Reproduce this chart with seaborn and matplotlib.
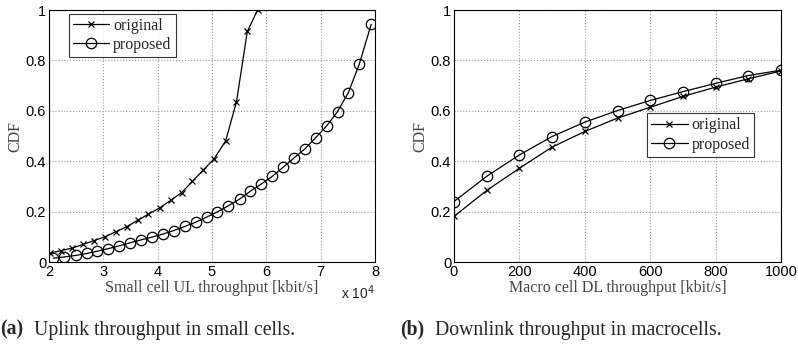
import numpy as np
import matplotlib
matplotlib.use("Agg")
import matplotlib.pyplot as plt
import seaborn as sns

# Small cell uplink throughput [kbit/s]
ul_orig_x = [20200, 22200, 24200, 26300, 28300, 30300, 32300, 34300, 36300, 38300,
             40400, 42400, 44400, 46400, 48400, 50400, 52500, 54500, 56500, 58400]
ul_orig_cdf = [0.035, 0.045, 0.055, 0.07, 0.085, 0.10, 0.12, 0.14, 0.165, 0.19,
               0.215, 0.245, 0.275, 0.32, 0.365, 0.41, 0.48, 0.635, 0.915, 1.0]
ul_prop_x = [20800, 22800, 24900, 27000, 28900, 30900, 32900, 34900, 37000, 39000,
             41000, 43000, 45000, 47100, 49000, 51000, 53000, 55100, 57000, 59100,
             61100, 63100, 65100, 67100, 69100, 71100, 73100, 75100, 77100, 79300]
ul_prop_cdf = [0.015, 0.02, 0.026, 0.034, 0.043, 0.053, 0.064, 0.076, 0.088, 0.099,
               0.111, 0.125, 0.141, 0.159, 0.178, 0.199, 0.223, 0.25, 0.28, 0.31,
               0.34, 0.376, 0.413, 0.449, 0.494, 0.54, 0.597, 0.672, 0.785, 0.943]

# Macro cell downlink throughput [kbit/s]
dl_x = [0, 100, 200, 300, 400, 500, 600, 700, 800, 900, 1000]
dl_orig_cdf = [0.181, 0.284, 0.372, 0.456, 0.518, 0.571, 0.614, 0.657, 0.694, 0.727, 0.758]
dl_prop_cdf = [0.24, 0.34, 0.425, 0.498, 0.555, 0.601, 0.641, 0.676, 0.709, 0.74, 0.761]

sns.set_style("white")
plt.rcParams['font.family'] = ['Liberation Sans', 'DejaVu Sans']

fig = plt.figure(figsize=(7.98, 3.45), dpi=100)
ax1 = fig.add_axes([49 / 798, 1 - 262 / 345, 326 / 798, 252 / 345])
ax2 = fig.add_axes([454 / 798, 1 - 262 / 345, 327 / 798, 252 / 345])

serif = 'Liberation Serif'
orig_style = dict(color='k', marker='x', markersize=5, markeredgecolor='k',
                  markeredgewidth=0.9, linewidth=0.9)
prop_style = dict(color='k', marker='o', markersize=7.5, markerfacecolor='none',
                  markeredgecolor='k', markeredgewidth=0.9, linewidth=0.9)

sns.lineplot(x=ul_orig_x, y=ul_orig_cdf, ax=ax1, label='original', **orig_style)
sns.lineplot(x=ul_prop_x, y=ul_prop_cdf, ax=ax1, label='proposed', **prop_style)
sns.lineplot(x=dl_x, y=dl_orig_cdf, ax=ax2, label='original', **orig_style)
sns.lineplot(x=dl_x, y=dl_prop_cdf, ax=ax2, label='proposed', **prop_style)

ax1.set_xlim(20000, 80000)
ax1.set_xticks(np.arange(20000, 80001, 10000))
ax1.set_xticklabels([str(v) for v in range(2, 9)])
ax2.set_xlim(0, 1000)
ax2.set_xticks(range(0, 1001, 200))

for ax in (ax1, ax2):
    ax.set_ylim(0, 1)
    ax.set_yticks([0, 0.2, 0.4, 0.6, 0.8, 1])
    ax.set_yticklabels(['0', '0.2', '0.4', '0.6', '0.8', '1'])
    ax.grid(True, linestyle=':', color='#999999', linewidth=0.8)
    ax.tick_params(direction='in', length=3, labelsize=10.5, pad=2, colors='k')
    for s in ax.spines.values():
        s.set_color('k')
        s.set_linewidth(0.8)
    ax.set_ylabel('CDF', family=serif, fontsize=11.5, color='#444444', labelpad=2)

ax1.set_xlabel('Small cell UL throughput [kbit/s]', family=serif, fontsize=11.5,
               color='#444444', labelpad=1)
ax2.set_xlabel('Macro cell DL throughput [kbit/s]', family=serif, fontsize=11.5,
               color='#444444', labelpad=1)
ax1.text(1.0, -0.085, r'x 10$^4$', transform=ax1.transAxes, ha='right', va='top',
         fontsize=10)

leg_kw = dict(loc='upper left', prop={'family': serif, 'size': 11.5}, frameon=True,
              fancybox=False, edgecolor='k', handlelength=2.3, handletextpad=0.25,
              borderpad=0.25, labelspacing=0.2, borderaxespad=0)
leg1 = ax1.legend(bbox_to_anchor=(0.06, 0.985), **leg_kw)
leg2 = ax2.legend(bbox_to_anchor=(0.59, 0.59), **leg_kw)
for leg in (leg1, leg2):
    leg.get_frame().set_linewidth(0.8)

fig.text(0.0, 0.03, '(a)', fontsize=14.2, family=serif, weight='bold', va='baseline')
fig.text(0.043, 0.03, 'Uplink throughput in small cells.', fontsize=14.2,
         family=serif, va='baseline')
fig.text(0.502, 0.03, '(b)', fontsize=14.2, family=serif, weight='bold', va='baseline')
fig.text(0.545, 0.03, 'Downlink throughput in macrocells.', fontsize=14.2,
         family=serif, va='baseline')

fig.savefig('out.png', dpi=100)
